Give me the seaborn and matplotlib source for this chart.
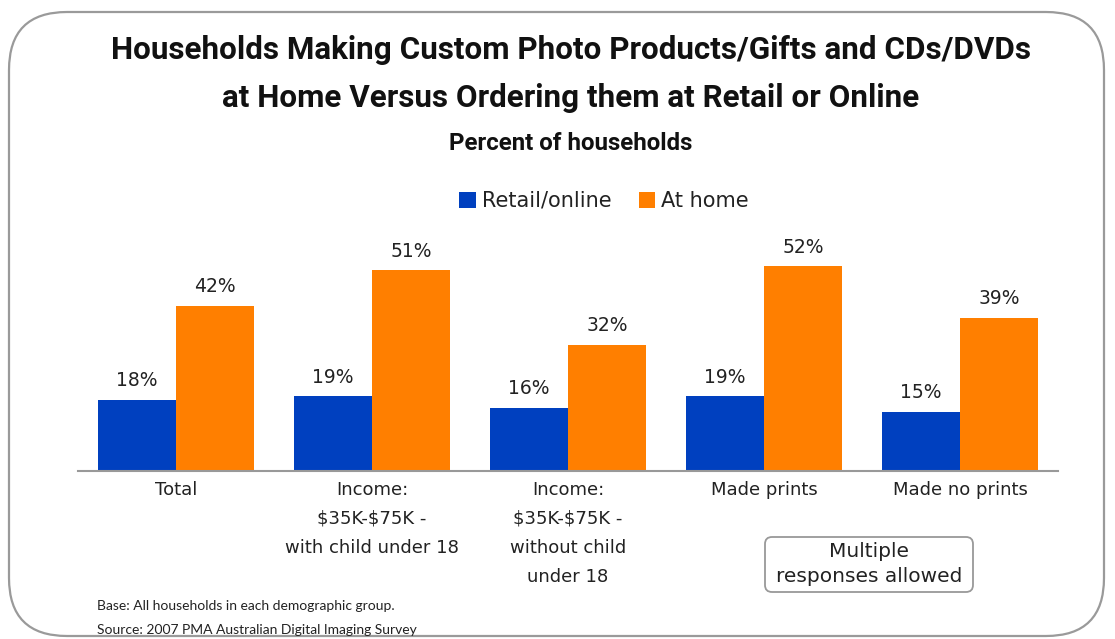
import matplotlib
matplotlib.use("Agg")
import matplotlib.pyplot as plt
from matplotlib.patches import FancyBboxPatch, Patch
import seaborn as sns
import pandas as pd

categories = [
    "Total",
    "Income:\n\\$35K-\\$75K -\nwith child under 18",
    "Income:\n\\$35K-\\$75K -\nwithout child\nunder 18",
    "Made prints",
    "Made no prints",
]
series_names = ["Retail/online", "At home"]
retail_online = [18, 19, 16, 19, 15]
at_home = [42, 51, 32, 52, 39]
colors = ["#0040BF", "#FF7F00"]

df = pd.DataFrame({
    "category": categories * 2,
    "series": [series_names[0]] * len(categories) + [series_names[1]] * len(categories),
    "value": retail_online + at_home,
})

sns.set_theme(style="white")
plt.rcParams["font.family"] = ["DejaVu Sans"]
TEXT = "#222222"
TITLE_FONT = ["Roboto", "DejaVu Sans"]
NOTE_FONT = ["Lato", "DejaVu Sans"]

W, H = 1115, 639
fig = plt.figure(figsize=(W / 100, H / 100), dpi=100)
fig.patch.set_facecolor("white")

# rounded outer frame, drawn in inches so the corners stay circular
frame = FancyBboxPatch((9 / 100, 3 / 100), (1104 - 9) / 100, (627 - 3) / 100,
                       boxstyle="round,pad=0,rounding_size=0.58",
                       transform=fig.dpi_scale_trans, facecolor="none",
                       edgecolor="#9a9a9a", linewidth=1.6, zorder=-5)
fig.patches.append(frame)

ax = fig.add_axes([78 / W, 1 - 471 / H, (1058 - 78) / W, (471 - 235) / H])
ax.set_facecolor("none")
ax.set_zorder(2)

sns.barplot(data=df, x="category", y="value", hue="series", palette=colors,
            order=categories, hue_order=series_names, width=0.8,
            saturation=1, linewidth=0, ax=ax, legend=False)

ax.set_ylim(0, 60)
ax.set_xlim(-0.5, len(categories) - 0.5)
ax.set_xlabel("")
ax.set_ylabel("")
ax.set_yticks([])
for s in ["top", "right", "left"]:
    ax.spines[s].set_visible(False)
ax.spines["bottom"].set_color("#999999")
ax.spines["bottom"].set_linewidth(1.5)
ax.tick_params(axis="x", length=0, pad=7)
ax.set_xticks(range(len(categories)))
ax.set_xticklabels(categories, fontsize=13, color=TEXT, linespacing=1.8, va="top")

for cont in ax.containers:
    ax.bar_label(cont, labels=[f"{v:.0f}%" for v in cont.datavalues],
                 padding=7, fontsize=13.5, color=TEXT)

# titles
fig.text(0.512, 1 - 50 / H, "Households Making Custom Photo Products/Gifts and CDs/DVDs",
         ha="center", va="center", fontsize=22.6, fontweight="bold",
         family=TITLE_FONT, color="#111111")
fig.text(0.512, 1 - 98 / H, "at Home Versus Ordering them at Retail or Online",
         ha="center", va="center", fontsize=22.6, fontweight="bold",
         family=TITLE_FONT, color="#111111")
fig.text(0.512, 1 - 143 / H, "Percent of households",
         ha="center", va="center", fontsize=17.3, fontweight="bold",
         family=TITLE_FONT, color="#111111")

handles = [Patch(facecolor=c, edgecolor="none") for c in colors]
fig.legend(handles, series_names, loc="center", bbox_to_anchor=(604 / W, 1 - 201 / H),
           ncol=2, frameon=False, fontsize=15, handlelength=0.8, handleheight=0.8,
           handletextpad=0.3, columnspacing=1.3, labelcolor=TEXT)

# note box
note_box = FancyBboxPatch((765 / 100, (H - 592) / 100), 208 / 100, 55 / 100,
                          boxstyle="round,pad=0,rounding_size=0.07",
                          transform=fig.dpi_scale_trans, facecolor="white",
                          edgecolor="#999999", linewidth=1.3, zorder=1)
fig.patches.append(note_box)
fig.text(869 / W, 1 - 564 / H, "Multiple\nresponses allowed", ha="center", va="center",
         fontsize=14.5, color=TEXT, linespacing=1.45)

fig.text(97 / W, 1 - 606 / H, "Base: All households in each demographic group.",
         ha="left", va="center", fontsize=10, color=TEXT, family=NOTE_FONT)
fig.text(97 / W, 1 - 630 / H, "Source: 2007 PMA Australian Digital Imaging Survey",
         ha="left", va="center", fontsize=10, color=TEXT, family=NOTE_FONT)

fig.savefig("out.png", dpi=100, facecolor="white")
